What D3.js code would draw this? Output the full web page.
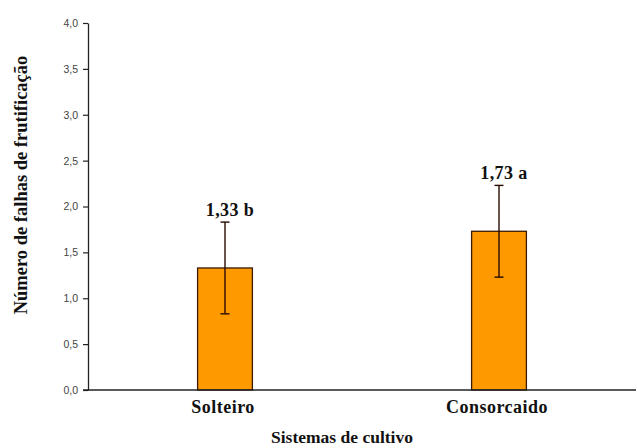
<!DOCTYPE html>
<html>
<head>
<meta charset="utf-8">
<script src="https://cdn.jsdelivr.net/npm/d3@7"></script>
<style>
  html, body { margin: 0; padding: 0; background: #fff; }
  svg { display: block; }
</style>
</head>
<body>
<svg id="chart" width="637" height="448"></svg>
<script>
// Cropping systems and mean number of fruiting failures
const categories = ["Solteiro", "Consorcaido"];
const means = [1.33, 1.73];
const errors = [0.5, 0.5];
const letters = ["b", "a"];
const yTicks = [0, 0.5, 1.0, 1.5, 2.0, 2.5, 3.0, 3.5, 4.0];

const svg = d3.select("#chart");
const plotLeft = 88, plotRight = 636, plotTop = 23, plotBottom = 390;

const x = d3.scaleBand().domain(categories).range([plotLeft, plotRight]).padding(0);
const y = d3.scaleLinear().domain([0, 4]).range([plotBottom, plotTop]);
const barW = x.bandwidth() * 0.2;
const fmt = v => d3.format(".1f")(v).replace(".", ",");
const fmt2 = v => d3.format(".2f")(v).replace(".", ",");

// Y axis
const yAxis = svg.append("g")
  .attr("transform", `translate(${plotLeft},0)`)
  .call(d3.axisLeft(y).tickValues(yTicks).tickFormat(fmt).tickSize(5).tickSizeOuter(0));
yAxis.select(".domain").attr("stroke", "#222").attr("stroke-width", 1.3);
yAxis.selectAll(".tick line").attr("stroke", "#222").attr("stroke-width", 1.2);
yAxis.selectAll(".tick text")
  .attr("x", -10)
  .attr("font-family", "Liberation Sans, Arial, sans-serif")
  .attr("font-size", 10.5)
  .attr("fill", "#444");

// Bars
svg.append("g").selectAll("rect")
  .data(categories)
  .join("rect")
  .attr("x", (d) => x(d) + x.bandwidth() / 2 - barW / 2)
  .attr("y", (d, i) => y(means[i]))
  .attr("width", barW)
  .attr("height", (d, i) => y(0) - y(means[i]))
  .attr("fill", "#FF9900")
  .attr("stroke", "#3a1a00")
  .attr("stroke-width", 1.3);

// Error bars
const eb = svg.append("g").attr("stroke", "#2a0a00").attr("stroke-width", 1.4);
categories.forEach((c, i) => {
  const cx = x(c) + x.bandwidth() / 2;
  const hi = y(means[i] + errors[i]), lo = y(means[i] - errors[i]);
  eb.append("line").attr("x1", cx).attr("x2", cx).attr("y1", hi).attr("y2", lo);
  eb.append("line").attr("x1", cx - 4.5).attr("x2", cx + 4.5).attr("y1", hi).attr("y2", hi);
  eb.append("line").attr("x1", cx - 4.5).attr("x2", cx + 4.5).attr("y1", lo).attr("y2", lo);
});

// X axis line
svg.append("line")
  .attr("x1", 83).attr("x2", plotRight)
  .attr("y1", y(0)).attr("y2", y(0))
  .attr("stroke", "#222").attr("stroke-width", 1.5);

const serif = "Liberation Serif, Times New Roman, serif";

// Value labels with significance letters
svg.append("g").selectAll("text")
  .data(categories)
  .join("text")
  .attr("x", (d) => x(d) + x.bandwidth() / 2 + 5)
  .attr("y", (d, i) => y(means[i] + errors[i]) - 6)
  .attr("text-anchor", "middle")
  .attr("font-family", serif)
  .attr("font-weight", "bold")
  .attr("font-size", 18)
  .attr("letter-spacing", 0.4)
  .attr("fill", "#111")
  .text((d, i) => fmt2(means[i]) + " " + letters[i]);

// Category labels
svg.append("g").selectAll("text")
  .data(categories)
  .join("text")
  .attr("x", (d) => x(d) + x.bandwidth() / 2 - 2)
  .attr("y", 413)
  .attr("text-anchor", "middle")
  .attr("font-family", serif)
  .attr("font-weight", "bold")
  .attr("font-size", 18)
  .attr("letter-spacing", 0.5)
  .attr("fill", "#111")
  .text(d => d);

// Axis titles
svg.append("text")
  .attr("x", 342).attr("y", 443)
  .attr("text-anchor", "middle")
  .attr("font-family", serif)
  .attr("font-weight", "bold")
  .attr("font-size", 17.5)
  .attr("fill", "#111")
  .text("Sistemas de cultivo");

svg.append("text")
  .attr("transform", "translate(27,185) rotate(-90)")
  .attr("text-anchor", "middle")
  .attr("font-family", serif)
  .attr("font-weight", "bold")
  .attr("font-size", 18.5)
  .attr("fill", "#111")
  .text("Número de falhas de frutificação");
</script>
</body>
</html>
